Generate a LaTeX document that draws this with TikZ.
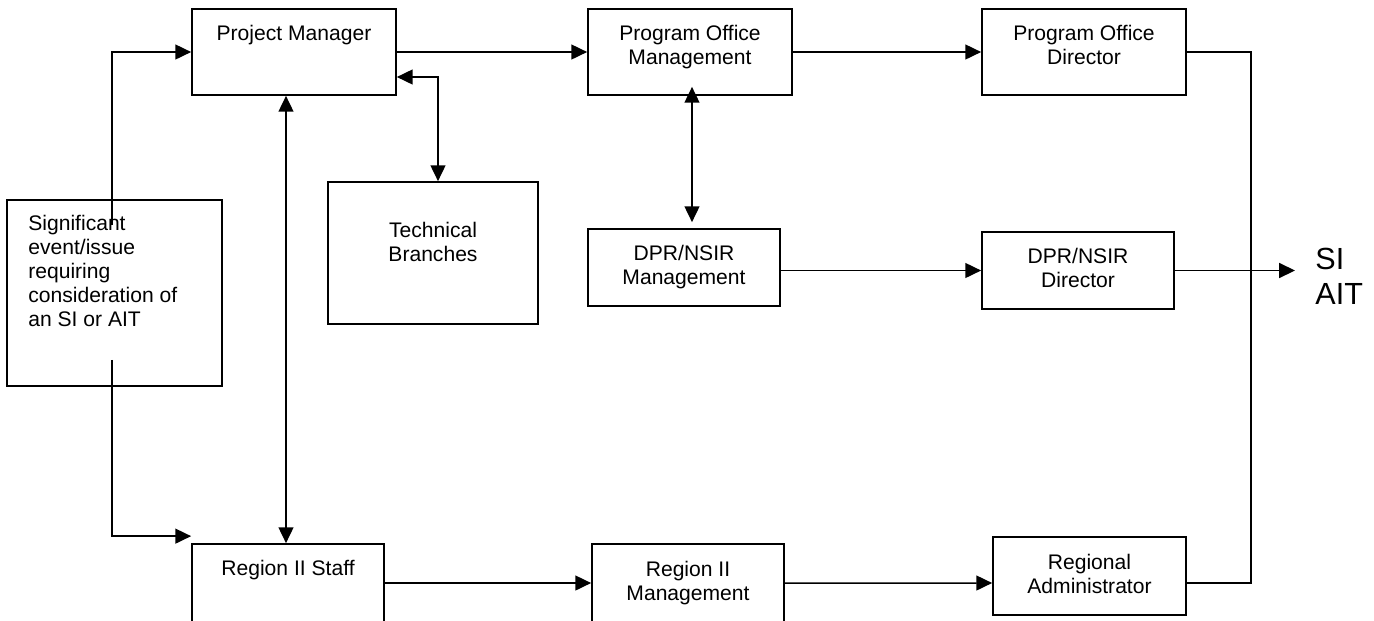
\documentclass[tikz,border=0pt]{standalone}
\usepackage{fontspec}
\setmainfont{Liberation Sans}
\usetikzlibrary{arrows.meta}
\begin{document}
\begin{tikzpicture}[x=0.02cm,y=-0.02cm,
 box/.style={draw,line width=1pt,inner sep=0},
 txt/.style={inner sep=0,align=center,font=\fontsize{12}{13.6}\selectfont},
 line/.style={line width=0.85pt},
 arr/.style={line,-{Triangle[length=9pt,width=8.5pt]}},
 biarr/.style={line,{Triangle[length=9pt,width=8.5pt]}-{Triangle[length=9pt,width=8.5pt]}}]
 \clip (0,0) rectangle (1374,620);
 \node[box,minimum width=4.08cm,minimum height=1.72cm](pm) at (294,52){};
 \node[box,minimum width=4.08cm,minimum height=1.72cm](pom) at (690,52){};
 \node[box,minimum width=4.08cm,minimum height=1.72cm](pod) at (1084,52){};
 \node[box,minimum width=4.2cm,minimum height=2.84cm](tech) at (433,253){};
 \node[box,minimum width=3.84cm,minimum height=1.54cm](dm) at (684,267.5){};
 \node[box,minimum width=3.84cm,minimum height=1.54cm](dd) at (1078,270.5){};
 \node[box,minimum width=4.3cm,minimum height=3.72cm](sig) at (114.5,293){};
 \node[box,minimum width=3.84cm,minimum height=1.56cm](rs) at (288,583){};
 \node[box,minimum width=3.84cm,minimum height=1.56cm](rm) at (688,583){};
 \node[box,minimum width=3.86cm,minimum height=1.56cm](ra) at (1089.5,576){};
 \node[txt,anchor=north](pmt) at (294,25){Project Manager};
 \node[txt,anchor=north](pomt) at (690,25){Program Office\\Management};
 \node[txt,anchor=north](podt) at (1084,25){Program Office\\Director};
 \node[txt,anchor=north](techt) at (433,222){Technical\\Branches};
 \node[txt,anchor=north](dmt) at (684,245){DPR/NSIR\\Management};
 \node[txt,anchor=north](ddt) at (1078,248){DPR/NSIR\\Director};
 \node[txt,anchor=north west,align=left](sigt) at (28,215){Significant\\event/issue\\requiring\\consideration of\\an SI or AIT};
 \node[txt,anchor=north](rst) at (288,560){Region II Staff};
 \node[txt,anchor=north](rmt) at (688,561){Region II\\Management};
 \node[txt,anchor=north](rat) at (1089.5,554){Regional\\Administrator};
 \node[inner sep=0,anchor=north west,align=left,font=\fontsize{17.4}{19.8}\selectfont](si) at (1315,248){SI\\AIT};
 \draw[arr]([xshift=-0.05cm,yshift=-0.52cm]sig.north) |- (pm.west);
 \draw[arr]([xshift=-0.05cm,yshift=-1.34cm]sig.center) |- ([yshift=0.14cm]rs.north west);
 \draw[biarr]([xshift=-0.16cm]pm.south) -- ([xshift=-0.16cm]pm.south |- rs.north);
 \draw[biarr]([yshift=-0.5cm]pm.east) -| ([xshift=0.1cm]tech.north);
 \draw[arr](pm.east) -- (pom.west);
 \draw[arr](pom.east) -- (pod.west);
 \draw[biarr]([xshift=0.04cm,yshift=0.18cm]pom.south) -- ([xshift=0.04cm,yshift=0.12cm]pom.south |- dm.north);
 \draw[arr](dm.east |- dd.west) -- (dd.west);
 \draw[arr,shorten >=0.4cm](dd.east) -- (dd.east -| si.west);
 \draw[line](pod.east) -- ++(64,0) |- ([yshift=-0.14cm]ra.east);
 \draw[arr](rs.east) -- (rm.west);
 \draw[arr](rm.east) -- ([yshift=-0.14cm]ra.west);
\end{tikzpicture}
\end{document}
